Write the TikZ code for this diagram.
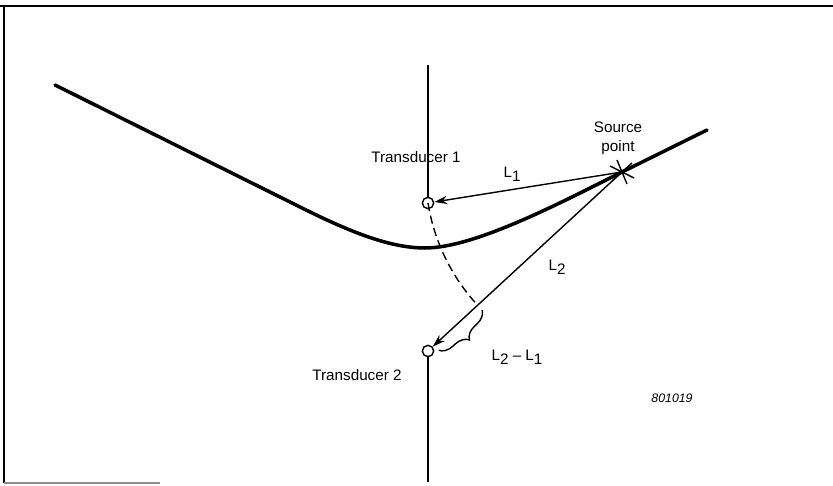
\documentclass[tikz,border=0pt]{standalone}
\usepackage{fontspec}
\setmainfont{Liberation Sans}
\usetikzlibrary{arrows.meta,calc,decorations.pathreplacing}
\newcommand{\Lsub}[1]{L\raisebox{-0.45ex}{#1}}
\begin{document}
\begin{tikzpicture}[x=0.03cm,y=-0.03cm,
  lbl/.style={font=\fontsize{13pt}{16pt}\selectfont, inner sep=0pt, align=center},
  thin line/.style={line width=1.2pt},
  transducer/.style={circle, draw, line width=1.2pt, inner sep=0pt, minimum size=0.34cm},
  arrowline/.style={thin line, -{Stealth[length=11pt,width=7pt]}},
  frameline/.style={line width=1.6pt}]
\useasboundingbox (0,0) rectangle (833,486);
% frame
\draw[frameline] (0,6) -- (833,6);
\draw[frameline] (4,6) -- (4,483);
\draw[line width=1.2pt, black!45] (4,483) -- (160,483);
% transducers and source
\node[transducer] (T1) at (428,203) {};
\node[transducer] (T2) at (428,351) {};
\coordinate (src) at (622,172);
\coordinate (vtop) at (428,65);
\coordinate (vbot) at (428,482);
\draw[thin line] (vtop) -- (T1.north);
\draw[thin line] (T2.south) -- (vbot);
% thick curve
\draw[line width=3pt, line cap=round] (55,85) -- (300,207)
  .. controls (350,232) and (390,248) .. (425,248)
  .. controls (475,248) and (562,202) .. (src) -- (707,130);
% source marker
\draw[thin line] ($(src)+(-5,-12)$) -- ($(src)+(5,12)$);
\draw[thin line] ($(src)+(-12,-6)$) -- ($(src)+(12,6)$);
\draw[thin line] ($(src)+(10,-9)$) -- ($(src)+(-10,9)$);
% distance arrows
\draw[arrowline] (src) -- (T1);
\draw[arrowline] (src) -- (T2);
% dashed arc and brace
\draw[thin line, dash pattern=on 7pt off 4pt]
  let \p1=($(T1.center)-(src)$), \p2=($(T2.center)-(src)$),
      \n1={veclen(\x1,\y1)}, \n2={atan2(\y1,\x1)}, \n3={atan2(\y2,\x2)} in
  (T1.center) arc[start angle=\n2, end angle=\n3, radius=\n1];
\path let \p1=($(T1.center)-(src)$), \n1={veclen(\x1,\y1)} in
  coordinate (A) at ($(src)!\n1!(T2.center)$);
\draw[thin line, decorate, decoration={brace, amplitude=0.4cm, raise=0.2cm}]
  (A) -- ($(T2.center)!0.25cm!(A)$);
% labels
\node[lbl] (t1lbl) at (416,157) {Transducer 1};
\node[lbl] (t2lbl) at (357,375) {Transducer 2};
\node[lbl] (srclbl) at (618,138) {Source\\[0pt]point};
\node[lbl] (l1) at (512,174) {\Lsub{1}};
\node[lbl] (l2) at (557,267) {\Lsub{2}};
\node[lbl] (l21) at (517,357) {\Lsub{2} – \Lsub{1}};
\node[lbl, font=\fontsize{10.5pt}{12pt}\selectfont\itshape] (fig) at (672,398) {801019};
\end{tikzpicture}
\end{document}
